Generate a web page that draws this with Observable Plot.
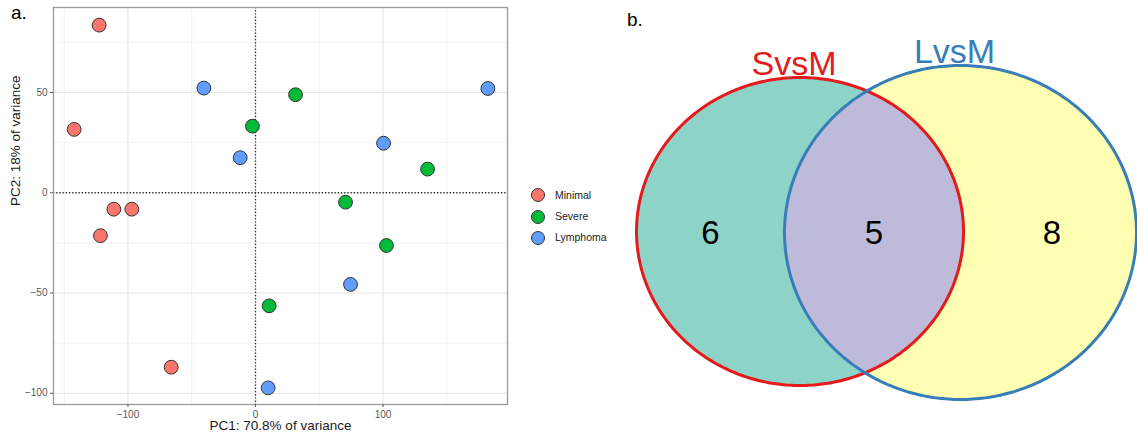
<!DOCTYPE html>
<html><head><meta charset="utf-8">
<script src="https://cdn.jsdelivr.net/npm/d3@7"></script>
<script src="https://cdn.jsdelivr.net/npm/@observablehq/plot@0.6"></script>
<style>
body{margin:0;background:#fff;font-family:"Liberation Sans",Arial,sans-serif;}
#wrap{position:relative;width:1137px;height:441px;overflow:hidden;background:#fff;}
.panel{position:absolute;font-size:19px;color:#000;line-height:normal;font-family:"Liberation Sans",Arial,sans-serif;}
.leg{position:absolute;left:531px;font-size:10.5px;color:#1a1a1a;line-height:13px;height:13px;white-space:nowrap;}
.leg span.k{display:inline-block;width:12px;height:12px;border:1px solid #333;border-radius:50%;vertical-align:top;margin-right:10px;margin-top:-0.5px;}
</style></head><body><div id="wrap"></div>
<script>
// ---- Panel a: PCA scatter data ----
const groups = ["Minimal", "Severe", "Lymphoma"];
const groupColors = ["#F8766D", "#00BA38", "#619CFF"];
const sampleGroup = [
  "Minimal","Minimal","Minimal","Minimal","Minimal","Minimal",
  "Severe","Severe","Severe","Severe","Severe","Severe",
  "Lymphoma","Lymphoma","Lymphoma","Lymphoma","Lymphoma","Lymphoma"
];
const pc1 = [-122.6, -142.2, -111.1, -97.0, -121.6, -66.1,
             -2.4, 31.4, 134.9, 70.6, 102.7, 10.7,
             -40.5, -12.0, 182.2, 100.4, 74.5, 9.9];
const pc2 = [83.6, 31.6, -8.2, -8.2, -21.4, -87.0,
             33.2, 48.9, 11.8, -4.7, -26.3, -56.4,
             52.2, 17.5, 52.0, 24.7, -45.7, -97.3];
const xTicks = [-100, 0, 100];
const yTicks = [-100, -50, 0, 50];
const xMinor = [-150, -50, 50, 150];
const yMinor = [-75, -25, 25, 75];
const xLabel = "PC1: 70.8% of variance";
const yLabel = "PC2: 18% of variance";

// ---- Panel b: Venn data ----
const vennSets = ["SvsM", "LvsM"];
const vennSetColors = ["#e41a1c", "#377eb8"];
const vennRegions = ["SvsM only", "SvsM & LvsM", "LvsM only"];
const vennCounts = [6, 5, 8];
const vennFills = ["#8dd3c7", "#bebada", "#ffffb3"];

const wrap = document.getElementById("wrap");
const font = "Liberation Sans, Arial, sans-serif";

// ---- Panel a ----
const samples = sampleGroup.map((g, i) => ({group: g, pc1: pc1[i], pc2: pc2[i]}));
const left = Plot.plot({
  width: 520, height: 441,
  marginLeft: 53, marginRight: 13, marginTop: 7, marginBottom: 37,
  style: {fontFamily: font, fontSize: "10px", background: "transparent", overflow: "visible"},
  x: {domain: [-158.4, 197.6]},
  y: {domain: [-105.6, 92.4]},
  color: {domain: groups, range: groupColors},
  marks: [
    Plot.gridX(xMinor, {stroke: "#ebebeb", strokeOpacity: 1, strokeWidth: 0.7}),
    Plot.gridY(yMinor, {stroke: "#ebebeb", strokeOpacity: 1, strokeWidth: 0.7}),
    Plot.gridX(xTicks, {stroke: "#e6e6e6", strokeOpacity: 1, strokeWidth: 1.2}),
    Plot.gridY(yTicks, {stroke: "#e6e6e6", strokeOpacity: 1, strokeWidth: 1.2}),
    Plot.ruleX([0], {stroke: "#222", strokeDasharray: "1.2,2", strokeWidth: 1.3}),
    Plot.ruleY([0], {stroke: "#222", strokeDasharray: "1.2,2", strokeWidth: 1.3}),
    Plot.frame({stroke: "#999", strokeWidth: 1.3}),
    Plot.axisX(xTicks, {tickSize: 3, tickPadding: 3, color: "#595959", label: null}),
    Plot.axisY(yTicks, {tickSize: 3, tickPadding: 3, color: "#595959", label: null}),
    Plot.dot(samples, {x: "pc1", y: "pc2", fill: "group", r: 6.9, stroke: "#333", strokeWidth: 1}),
    Plot.text([xLabel], {frameAnchor: "bottom", dy: 25, fontSize: 13.5, fill: "#1a1a1a"}),
    Plot.text([yLabel], {frameAnchor: "left", dx: -38, rotate: -90, fontSize: 13.5, fill: "#1a1a1a"})
  ]
});
left.style.position = "absolute"; left.style.left = "0px"; left.style.top = "0px";
wrap.appendChild(left);

// legend
const legendTop = [195, 216.7, 237.7];
groups.forEach((g, i) => {
  const d = document.createElement("div");
  d.className = "leg";
  d.style.top = (legendTop[i] - 6.5) + "px";
  d.innerHTML = `<span class="k" style="background:${groupColors[i]}"></span>${g}`;
  wrap.appendChild(d);
});

// panel letters
const a = document.createElement("div"); a.className = "panel"; a.textContent = "a.";
a.style.left = "11px"; a.style.top = "2px"; wrap.appendChild(a);
const b = document.createElement("div"); b.className = "panel"; b.textContent = "b.";
b.style.left = "627px"; b.style.top = "9px"; wrap.appendChild(b);

// ---- Panel b: Venn (layout geometry in pixel units) ----
const ellipses = [
  {cx: 799.5, cy: 231, rx: 163.5, ry: 154},
  {cx: 960, cy: 232, rx: 176, ry: 167}
];
function band(e) {
  const N = 240;
  return d3.range(N + 1).map(i => {
    const t = Math.PI * i / N;
    return {x: e.cx + e.rx * Math.cos(t), y1: e.cy - e.ry * Math.sin(t), y2: e.cy + e.ry * Math.sin(t)};
  });
}
function outline(e) {
  return d3.range(361).map(i => {
    const t = 2 * Math.PI * i / 360;
    return {x: e.cx + e.rx * Math.cos(t), y: e.cy + e.ry * Math.sin(t)};
  });
}
function half(e, x) {
  const u = (x - e.cx) / e.rx;
  return e.ry * Math.sqrt(Math.max(0, 1 - u * u));
}
const [E0, E1] = ellipses;
const lx0 = E1.cx - E1.rx, lx1 = E0.cx + E0.rx;
const lens = d3.range(241).map(i => {
  const x = lx0 + (lx1 - lx0) * (1 - Math.cos(Math.PI * i / 240)) / 2;
  return {x,
    y1: Math.max(E0.cy - half(E0, x), E1.cy - half(E1, x)),
    y2: Math.min(E0.cy + half(E0, x), E1.cy + half(E1, x))};
});
const regionX = [
  ((E0.cx - E0.rx) + lx0) / 2,
  (lx0 + lx1) / 2,
  (lx1 + (E1.cx + E1.rx)) / 2 + 2
];
const regionY = (E0.cy + E1.cy) / 2 + 1.5;
const regions = vennRegions.map((r, i) => ({region: r, count: vennCounts[i], x: regionX[i], y: regionY}));
const setLabels = vennSets.map((s, i) => ({set: s, x: ellipses[i].cx - 6, y: ellipses[i].cy - ellipses[i].ry - 2.5, color: vennSetColors[i]}));

const right = Plot.plot({
  width: 537, height: 441,
  marginLeft: 0, marginRight: 0, marginTop: 0, marginBottom: 0,
  style: {fontFamily: font, background: "transparent", overflow: "visible"},
  x: {domain: [600, 1137], range: [0, 537], axis: null},
  y: {domain: [0, 441], range: [0, 441], axis: null},
  marks: [
    Plot.areaY(band(E0), {x: "x", y1: "y1", y2: "y2", fill: vennFills[0]}),
    Plot.areaY(band(E1), {x: "x", y1: "y1", y2: "y2", fill: vennFills[2]}),
    Plot.areaY(lens, {x: "x", y1: "y1", y2: "y2", fill: vennFills[1]}),
    Plot.line(outline(E0), {x: "x", y: "y", stroke: vennSetColors[0], strokeWidth: 3}),
    Plot.line(outline(E1), {x: "x", y: "y", stroke: vennSetColors[1], strokeWidth: 3}),
    Plot.text(regions, {x: "x", y: "y", text: d => String(d.count), fontSize: 33, fill: "#000"}),
    Plot.text(setLabels, {x: "x", y: "y", text: "set", fill: "color", fontSize: 34, lineAnchor: "bottom"})
  ]
});
right.style.position = "absolute"; right.style.left = "600px"; right.style.top = "0px";
wrap.appendChild(right);
</script>
</body></html>
